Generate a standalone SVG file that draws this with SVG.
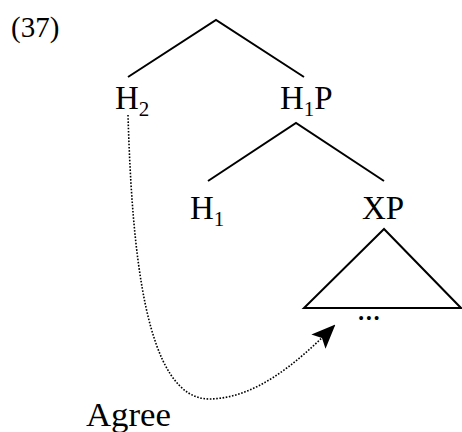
<svg xmlns="http://www.w3.org/2000/svg" width="462" height="432" viewBox="0 0 462 432">
<defs>
<style>
.t{font-family:"Liberation Serif","DejaVu Serif",serif;font-size:33px;fill:#000}
.s{font-size:21px}
.n{font-size:29px}
.e{stroke:#000;stroke-width:2;fill:none}
</style>
<marker id="ah2" viewBox="0 0 24 20" refX="22" refY="10" markerWidth="24" markerHeight="20" markerUnits="userSpaceOnUse" orient="auto">
<path d="M0,0 L24,10 L0,20 L5,10 Z" fill="#000"/>
</marker>
</defs>
<text class="t n" x="11" y="37">(37)</text>
<g id="connectors">
<path class="e" d="M128,77 L216,20 L304,77"/>
<path class="e" d="M208,181 L296,123 L384,181"/>
<path d="M128,115 C132,250 145,400 210,399 C255,398 295,365 334,326" fill="none" stroke="#000" stroke-width="1.6" stroke-dasharray="1.6,1.6" marker-end="url(#ah2)"/>
</g>
<g id="n-H2"><text class="t" x="115" y="109">H<tspan class="s" dy="7">2</tspan></text></g>
<g id="n-H1P"><text class="t" x="280" y="109">H<tspan class="s" dy="7">1</tspan><tspan dy="-7">P</tspan></text></g>
<g id="n-H1"><text class="t" x="190" y="219">H<tspan class="s" dy="7">1</tspan></text></g>
<g id="n-XP"><text class="t" x="362" y="219">XP</text></g>
<g id="n-tri"><path class="e" d="M384,229 L304,308 L461,308 Z"/><text class="t" x="357" y="320" letter-spacing="-0.5">...</text></g>
<g id="n-agree"><text class="t" x="86" y="426" textLength="85" lengthAdjust="spacingAndGlyphs">Agree</text></g>
</svg>
